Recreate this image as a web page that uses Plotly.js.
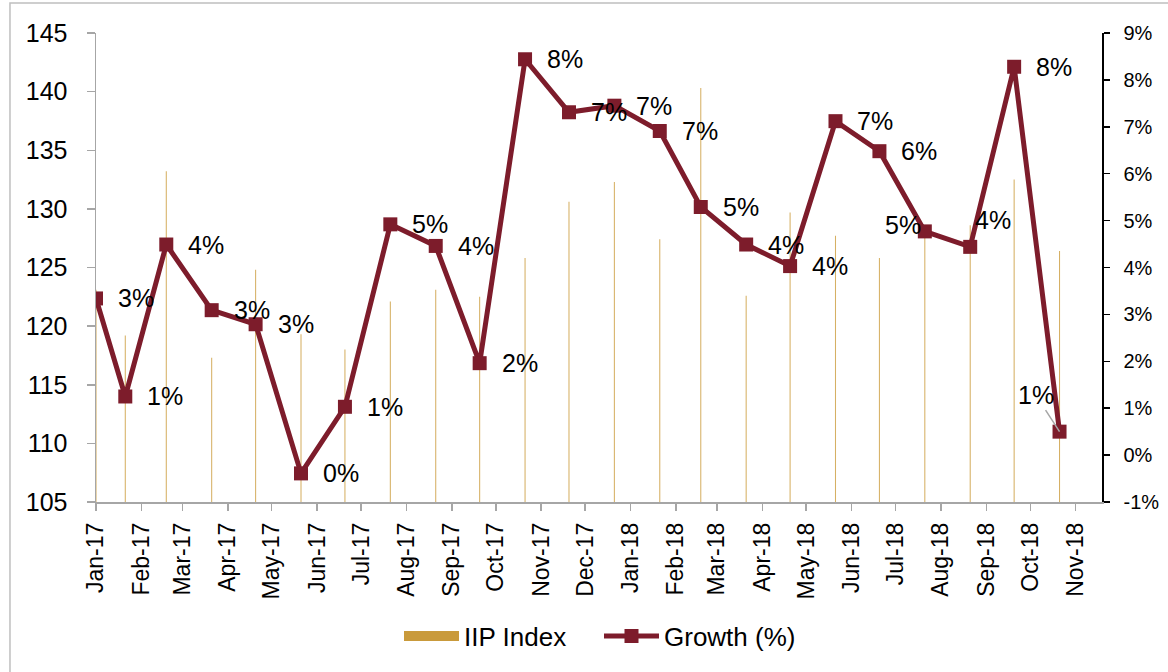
<!DOCTYPE html>
<html>
<head>
<meta charset="utf-8">
<script src="https://cdn.plot.ly/plotly-3.0.1.min.js"></script>
<style>
  html, body { margin: 0; padding: 0; background: #fff; overflow: hidden; }
  #chart { width: 1168px; height: 672px; }
</style>
</head>
<body>
<div id="chart"></div>
<script>
// ---- data ----
const months = ['2017-01-12','2017-02-01','2017-03-01','2017-04-01','2017-05-01','2017-06-01','2017-07-01',
  '2017-08-01','2017-09-01','2017-10-01','2017-11-01','2017-12-01','2018-01-01','2018-02-01','2018-03-01',
  '2018-04-01','2018-05-01','2018-06-01','2018-07-01','2018-08-01','2018-09-01','2018-10-01','2018-11-01'];
const iipIndex = [123.1, 119.2, 133.2, 117.3, 124.8, 119.3, 118.0, 122.1, 123.1, 122.5, 125.8, 130.6,
  132.3, 127.4, 140.3, 122.6, 129.7, 127.7, 125.8, 128.0, 128.6, 132.5, 126.4];
const growth = [3.34, 1.25, 4.49, 3.09, 2.79, -0.39, 1.03, 4.92, 4.46, 1.96, 8.44, 7.31,
  7.45, 6.91, 5.29, 4.49, 4.03, 7.12, 6.48, 4.77, 4.44, 8.28, 0.50];
const growthLabels = ['3%','1%','4%','3%','3%','0%','1%','5%','4%','2%','8%','7%',
  '7%','7%','5%','4%','4%','7%','6%','5%','4%','8%','1%'];
const tickDates = ['2017-01-12','2017-02-12','2017-03-12','2017-04-12','2017-05-12','2017-06-12','2017-07-12',
  '2017-08-12','2017-09-12','2017-10-12','2017-11-12','2017-12-12','2018-01-12','2018-02-12','2018-03-12',
  '2018-04-12','2018-05-12','2018-06-12','2018-07-12','2018-08-12','2018-09-12','2018-10-12','2018-11-12'];
const tickLabels = ['Jan-17','Feb-17','Mar-17','Apr-17','May-17','Jun-17','Jul-17','Aug-17','Sep-17','Oct-17',
  'Nov-17','Dec-17','Jan-18','Feb-18','Mar-18','Apr-18','May-18','Jun-18','Jul-18','Aug-18','Sep-18',
  'Oct-18','Nov-18'];
const growthTickVals = [-1, 0, 1, 2, 3, 4, 5, 6, 7, 8, 9];
const growthTickText = ['-1%','0%','1%','2%','3%','4%','5%','6%','7%','8%','9%'];

// ---- styles ----
const MAROON = '#7D1C2B';
const GOLD = '#C99A3B';
const FONT = 'Liberation Sans, Arial, sans-serif';

// label placement overrides (by index)
const labelOverrides = {
  19: {xanchor: 'right', xshift: -2, yshift: 6},
  20: {xanchor: 'left', xshift: 3, yshift: 27},
  22: {arrow: true, ax: -24, ay: -37}
};

const annotations = growth.map((g, i) => {
  const o = labelOverrides[i] || {};
  const a = {
    x: months[i], y: g, xref: 'x', yref: 'y2',
    text: growthLabels[i],
    font: {family: FONT, size: 25, color: '#000'},
    showarrow: false,
    xanchor: o.xanchor || 'left', yanchor: 'middle',
    xshift: (o.xshift !== undefined ? o.xshift : 20), yshift: o.yshift || 0
  };
  if (o.arrow) {
    a.showarrow = true; a.ax = o.ax; a.ay = o.ay; a.arrowhead = 0;
    a.arrowcolor = '#A6A6A6'; a.arrowwidth = 1.5; a.standoff = 0;
    a.xanchor = 'center'; a.xshift = 0;
  }
  return a;
});

const traces = [
  { // legend stand-in for IIP bars
    x: [null], y: [null], type: 'scatter', mode: 'lines', name: 'IIP Index',
    line: {color: GOLD, width: 15}, hoverinfo: 'skip', showlegend: true
  },
  {
    x: months, y: iipIndex, type: 'bar', name: 'IIP Index', showlegend: false,
    marker: {color: '#D6B064', line: {width: 0}}, width: months.map(() => 62e6), yaxis: 'y'
  },
  {
    x: months, y: growth, type: 'scatter', mode: 'lines+markers', name: 'Growth (%)', yaxis: 'y2',
    line: {color: MAROON, width: 5}, marker: {symbol: 'square', size: 14, color: MAROON}
  }
];

const layout = {
  width: 1168, height: 672,
  margin: {l: 96, r: 66, t: 33, b: 170},
  paper_bgcolor: '#fff', plot_bgcolor: '#fff',
  font: {family: FONT, color: '#000'},
  showlegend: true,
  legend: {
    orientation: 'h', x: 0.5, xanchor: 'center', y: -0.286, yanchor: 'middle',
    font: {family: FONT, size: 26, color: '#000'}, itemwidth: 55,
    entrywidth: 130, entrywidthmode: 'pixels', traceorder: 'normal'
  },
  xaxis: {
    type: 'date', range: ['2017-01-12', '2018-11-30'],
    tickmode: 'array', tickvals: tickDates, ticktext: tickLabels, tickangle: -90,
    tickfont: {family: FONT, size: 23, color: '#000'},
    showgrid: false, zeroline: false, showline: true, linecolor: '#A6A6A6', linewidth: 1.5,
    ticks: 'outside', ticklen: 7, tickcolor: '#A6A6A6', tickwidth: 1.5, ticklabelstandoff: 3
  },
  yaxis: {
    range: [105, 145], dtick: 5, tick0: 105,
    tickfont: {family: FONT, size: 25, color: '#000'},
    showgrid: false, zeroline: false, showline: true, linecolor: '#A6A6A6', linewidth: 1.5,
    ticks: 'outside', ticklen: 8, tickcolor: '#A6A6A6', tickwidth: 1.5, ticklabelstandoff: 14
  },
  yaxis2: {
    overlaying: 'y', side: 'right', range: [-1, 9],
    tickmode: 'array', tickvals: growthTickVals, ticktext: growthTickText,
    tickfont: {family: FONT, size: 20, color: '#000'},
    showgrid: false, zeroline: false, showline: true, linecolor: '#000', linewidth: 1.5,
    ticks: 'outside', ticklen: 6, tickcolor: '#000', tickwidth: 1.5, ticklabelstandoff: 10
  },
  annotations: annotations,
  shapes: [{
    type: 'rect', xref: 'paper', yref: 'paper',
    x0: -0.0855, x1: 1.2, y0: -0.5, y1: 1.064,
    line: {color: '#BFBFBF', width: 1.5}, fillcolor: 'rgba(0,0,0,0)', layer: 'below'
  }]
};

Plotly.newPlot('chart', traces, layout, {displayModeBar: false, staticPlot: true});
</script>
</body>
</html>
